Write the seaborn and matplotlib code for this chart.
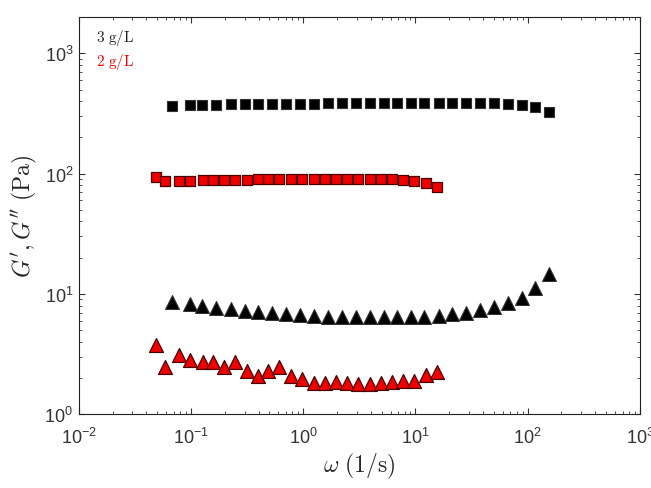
import numpy as np
import pandas as pd
import matplotlib
matplotlib.use("Agg")
import matplotlib.pyplot as plt
import seaborn as sns

# frequency (1/s) and moduli (Pa)
omega_3gl = [0.068, 0.098, 0.126, 0.167, 0.226, 0.303, 0.399, 0.532, 0.705, 0.94,
             1.25, 1.66, 2.22, 2.96, 3.91, 5.21, 6.87, 9.16, 12.0, 16.1,
             21.3, 28.4, 37.5, 50.0, 66.7, 88.4, 116, 155]
gp_3gl = [368, 372, 374, 375, 376, 377, 378, 379, 380, 381,
          382, 383, 384, 385, 386, 387, 388, 389, 389, 389,
          389, 389, 388, 386, 379, 370, 355, 323]
gpp_3gl = [8.63, 8.24, 7.93, 7.69, 7.45, 7.26, 7.12, 6.90, 6.76, 6.68,
           6.55, 6.48, 6.39, 6.39, 6.39, 6.39, 6.39, 6.39, 6.48, 6.60,
           6.76, 7.00, 7.35, 7.84, 8.47, 9.31, 11.1, 14.5]

omega_2gl = [0.049, 0.059, 0.0787, 0.098, 0.127, 0.158, 0.197, 0.249, 0.314, 0.393,
             0.49, 0.614, 0.776, 0.98, 1.24, 1.55, 1.96, 2.46, 3.08, 3.90,
             4.92, 6.17, 7.77, 9.66, 12.4, 15.6]
gp_2gl = [93, 86, 87, 87, 88, 88, 89, 89, 89, 90,
          90, 90, 90, 90, 91, 91, 91, 91, 90, 90,
          90, 90, 89, 87, 83, 78]
gpp_2gl = [3.76, 2.45, 3.11, 2.82, 2.69, 2.74, 2.49, 2.69, 2.29, 2.09,
           2.29, 2.45, 2.08, 1.96, 1.81, 1.81, 1.84, 1.81, 1.77, 1.77,
           1.81, 1.84, 1.87, 1.90, 2.12, 2.23]

sns.set_style("ticks")
plt.rcParams["font.family"] = ["Liberation Sans", "DejaVu Sans"]
plt.rcParams["mathtext.fontset"] = "cm"

df3 = pd.DataFrame({"omega": omega_3gl, "Gp": gp_3gl, "Gpp": gpp_3gl})
df2 = pd.DataFrame({"omega": omega_2gl, "Gp": gp_2gl, "Gpp": gpp_2gl})

fig = plt.figure(figsize=(6.51, 4.89), dpi=100)
ax = fig.add_axes([0.121, 0.151, 0.862, 0.812])

red = "#ee0000"
sns.scatterplot(data=df3, x="omega", y="Gp", marker="s", s=52, color="black",
                edgecolor="#333333", linewidth=0.8, ax=ax, zorder=3)
sns.scatterplot(data=df2, x="omega", y="Gp", marker="s", s=52, color=red,
                edgecolor="#4a0000", linewidth=0.9, ax=ax, zorder=3)
sns.scatterplot(data=df3, x="omega", y="Gpp", marker="^", s=100, color="black",
                edgecolor="#333333", linewidth=0.8, ax=ax, zorder=3)
sns.scatterplot(data=df2, x="omega", y="Gpp", marker="^", s=100, color=red,
                edgecolor="#4a0000", linewidth=0.9, ax=ax, zorder=3)

ax.set_xscale("log")
ax.set_yscale("log")
ax.set_xlim(1e-2, 1e3)
ax.set_ylim(1, 2000)

ax.tick_params(which="both", direction="in", top=True, right=True,
               labelsize=13, colors="#333333")
ax.tick_params(axis="x", which="major", pad=9)
ax.tick_params(axis="y", which="major", pad=4)
ax.tick_params(which="major", length=4)
ax.tick_params(which="minor", length=2)
for sp in ax.spines.values():
    sp.set_color("#222222")
    sp.set_linewidth(0.8)

ax.set_xlabel(r"$\omega\ \mathrm{(1/s)}$", fontsize=17, labelpad=3)
ax.set_ylabel(r"$G',G''\ \mathrm{(Pa)}$", fontsize=17, labelpad=4)

ax.text(0.03, 0.95, r"$\mathrm{3\ g/L}$", transform=ax.transAxes,
        fontsize=11, color="#222222", va="center")
ax.text(0.03, 0.89, r"$\mathrm{2\ g/L}$", transform=ax.transAxes,
        fontsize=11, color=red, va="center")

fig.savefig("out.png", dpi=100)
